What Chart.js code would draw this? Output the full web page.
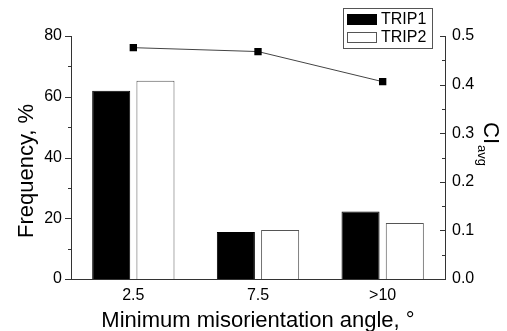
<!DOCTYPE html>
<html>
<head>
<meta charset="utf-8">
<script src="https://cdn.jsdelivr.net/npm/chart.js@4"></script>
<style>
  html, body { margin: 0; padding: 0; background: #fff; }
  #wrap { width: 507px; height: 331px; }
</style>
</head>
<body>
<div id="wrap"><canvas id="myChart" width="507" height="331"></canvas></div>
<script>
// values
const categories = ['2.5', '7.5', '>10'];
const trip1 = [62, 15.5, 22.2];
const trip2 = [65.3, 16.1, 18.4];
const ciAvg = [0.476, 0.468, 0.406];
const leftTicks = [0, 20, 40, 60, 80];
const rightTicks = [0.0, 0.1, 0.2, 0.3, 0.4, 0.5];

const axisColor = '#333';
const fontFamily = '"Liberation Sans", Arial, sans-serif';

// draws tick marks, axis titles and the boxed legend
const decor = {
  id: 'decor',
  afterDraw(chart) {
    const ctx = chart.ctx;
    const a = chart.chartArea;
    const y = chart.scales.y;
    const y2 = chart.scales.y2;
    ctx.save();
    ctx.strokeStyle = axisColor;
    ctx.lineWidth = 1;

    function hline(x1, x2, py) {
      const yy = Math.round(py) + 0.5;
      ctx.beginPath();
      ctx.moveTo(x1, yy);
      ctx.lineTo(x2, yy);
      ctx.stroke();
    }

    // left axis: ticks point outward, minor ticks in between
    leftTicks.forEach((v, i) => {
      hline(a.left - 6, a.left, y.getPixelForValue(v));
      if (i < leftTicks.length - 1) {
        hline(a.left - 3, a.left, y.getPixelForValue((v + leftTicks[i + 1]) / 2));
      }
    });
    // right axis: ticks point inward
    rightTicks.forEach((v, i) => {
      hline(a.right - 5, a.right, y2.getPixelForValue(v));
      if (i < rightTicks.length - 1) {
        hline(a.right - 3, a.right, y2.getPixelForValue((v + rightTicks[i + 1]) / 2));
      }
    });

    ctx.fillStyle = '#000';
    // left title
    ctx.save();
    ctx.translate(33, 171);
    ctx.rotate(-Math.PI / 2);
    ctx.font = '22px ' + fontFamily;
    ctx.textAlign = 'center';
    ctx.textBaseline = 'alphabetic';
    ctx.fillText('Frequency, %', 0, 0);
    ctx.restore();

    // bottom title
    ctx.font = '22px ' + fontFamily;
    ctx.textAlign = 'center';
    ctx.textBaseline = 'alphabetic';
    ctx.fillText('Minimum misorientation angle, \u00b0', 258, 327);

    // right title CI with subscript avg
    ctx.save();
    ctx.translate(484, 122);
    ctx.rotate(Math.PI / 2);
    ctx.textAlign = 'left';
    ctx.font = '22px ' + fontFamily;
    ctx.fillText('CI', 0, 0);
    const w = ctx.measureText('CI').width;
    ctx.font = '13px ' + fontFamily;
    ctx.fillText('avg', w + 1, 6);
    ctx.restore();

    // legend
    const lx = 343, ly = 8, lw = 89, lh = 40;
    ctx.strokeStyle = '#555';
    ctx.strokeRect(lx + 0.5, ly + 0.5, lw, lh);
    const ds = chart.data.datasets;
    [0, 1].forEach(i => {
      const cy = ly + 11 + i * 18;
      ctx.fillStyle = ds[i].backgroundColor;
      ctx.fillRect(lx + 4, cy - 5, 30, 11);
      ctx.strokeStyle = ds[i].borderColor;
      ctx.strokeRect(lx + 4.5, cy - 4.5, 29, 10);
      ctx.fillStyle = '#000';
      ctx.font = '16px ' + fontFamily;
      ctx.textAlign = 'left';
      ctx.textBaseline = 'middle';
      ctx.fillText(ds[i].label, lx + 38, cy + 1);
    });
    ctx.restore();
  }
};

const ctx = document.getElementById('myChart').getContext('2d');
const myChart = new Chart(ctx, {
  type: 'bar',
  data: {
    labels: categories,
    datasets: [
      {
        label: 'TRIP1',
        data: trip1,
        backgroundColor: '#000',
        borderColor: '#000',
        borderWidth: 1,
        yAxisID: 'y',
        barPercentage: 0.86,
        categoryPercentage: 0.71,
        order: 2
      },
      {
        label: 'TRIP2',
        data: trip2,
        backgroundColor: '#fff',
        borderColor: '#555',
        borderWidth: 1,
        yAxisID: 'y',
        barPercentage: 0.86,
        categoryPercentage: 0.71,
        order: 2
      },
      {
        type: 'line',
        label: 'CI avg',
        data: ciAvg,
        yAxisID: 'y2',
        borderColor: '#444',
        borderWidth: 1,
        pointStyle: 'rect',
        pointRadius: 5.2,
        pointBackgroundColor: '#000',
        pointBorderColor: '#000',
        pointBorderWidth: 0,
        fill: false,
        order: 1
      }
    ]
  },
  options: {
    responsive: false,
    animation: false,
    layout: { padding: { top: 36, left: 0, right: 0, bottom: 0 } },
    plugins: {
      legend: { display: false },
      tooltip: { enabled: false }
    },
    scales: {
      x: {
        offset: true,
        grid: { display: false, drawTicks: false },
        border: { display: true, color: axisColor, width: 1 },
        ticks: { color: '#000', padding: 7, font: { size: 16, family: fontFamily } },
        afterFit(scale) { scale.height = 52; }
      },
      y: {
        position: 'left',
        min: 0,
        max: 80,
        grid: { display: false, drawTicks: false },
        border: { display: true, color: axisColor, width: 1 },
        ticks: { stepSize: 20, color: '#000', padding: 9, font: { size: 16, family: fontFamily } },
        afterFit(scale) { scale.width = 71; }
      },
      y2: {
        position: 'right',
        min: 0,
        max: 0.5,
        grid: { display: false, drawTicks: false },
        border: { display: true, color: axisColor, width: 1 },
        ticks: {
          stepSize: 0.1,
          color: '#000',
          padding: 7,
          font: { size: 16, family: fontFamily },
          callback: v => Number(v).toFixed(1)
        },
        afterFit(scale) { scale.width = 62; }
      }
    }
  },
  plugins: [decor]
});
</script>
</body>
</html>
